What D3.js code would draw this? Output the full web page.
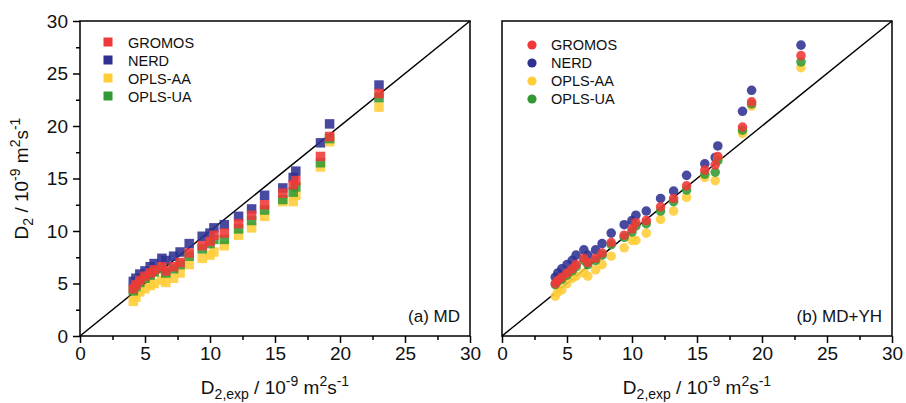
<!DOCTYPE html>
<html><head><meta charset="utf-8">
<script src="https://cdn.jsdelivr.net/npm/d3@7"></script>
<style>body{margin:0;background:#fff}svg{display:block}text{font-family:Arial,"Liberation Sans",sans-serif;fill:#111}</style>
</head><body>
<svg id="c" width="906" height="403"></svg>
<script>
const seriesNames = ["GROMOS","NERD","OPLS-AA","OPLS-UA"];
const seriesColors = ["#f03838","#2e3192","#ffcd38","#339a33"];
const xExp = [4.1,4.3,4.6,5.0,5.4,5.7,6.3,6.6,7.2,7.7,8.4,9.4,10.0,10.3,11.1,12.2,13.2,14.2,15.6,16.4,16.6,18.5,19.2,23.0];
// panel (a) MD
const mdGROMOS = [4.5,4.9,5.3,5.7,6.0,6.3,6.6,6.2,6.6,7.0,7.9,8.6,9.0,9.6,9.8,10.7,11.5,12.5,13.6,14.4,14.8,17.1,19.0,23.1];
const mdNERD   = [5.2,5.5,5.9,6.2,6.6,6.9,7.4,7.2,7.6,8.0,8.8,9.5,9.8,10.3,10.6,11.4,12.1,13.4,14.1,15.1,15.7,18.4,20.2,23.9];
const mdOPLSAA = [3.3,3.7,4.2,4.5,4.8,5.0,5.3,5.1,5.5,6.0,6.8,7.4,7.7,8.0,8.6,9.6,10.3,11.4,12.8,12.8,13.4,16.1,18.5,21.8];
const mdOPLSUA = [4.3,4.7,5.1,5.5,5.8,6.1,6.4,6.0,6.4,6.8,7.6,8.3,8.8,9.2,9.2,10.2,11.0,12.0,13.0,13.7,14.2,16.5,18.8,22.7];
// panel (b) MD+YH
const yhGROMOS = [5.0,5.3,5.6,6.0,6.4,6.8,7.4,7.0,7.4,7.9,8.9,9.6,10.2,10.8,11.0,12.3,13.1,14.3,15.8,16.3,17.1,19.9,22.3,26.7];
const yhNERD   = [5.6,6.0,6.4,6.8,7.2,7.7,8.2,7.7,8.2,8.8,9.8,10.6,11.0,11.5,11.9,13.1,13.8,15.3,16.4,17.0,18.1,21.4,23.4,27.7];
const yhOPLSAA = [3.8,4.2,4.4,5.0,5.5,5.7,6.0,5.7,6.3,6.8,7.6,8.4,9.1,9.1,9.8,11.1,11.9,13.2,15.1,14.8,16.9,19.3,21.9,25.55];
const yhOPLSUA = [4.9,5.2,5.4,5.8,6.2,6.6,7.2,6.8,7.2,7.7,8.7,9.4,9.9,10.5,10.7,11.9,12.8,13.9,15.4,15.6,16.7,19.6,22.1,26.1];
const majorTicks = [0,5,10,15,20,25,30];
const minorTicks = [2.5,7.5,12.5,17.5,22.5,27.5];
const panelLabels = ["(a) MD","(b) MD+YH"];

const svg = d3.select("#c");
const y = d3.scaleLinear().domain([0,30]).range([336,21]);
const panels = [
  {x: d3.scaleLinear().domain([0,30]).range([80,470]), data:[mdGROMOS,mdNERD,mdOPLSAA,mdOPLSUA], shape:"square", yaxis:true, label:panelLabels[0]},
  {x: d3.scaleLinear().domain([0,30]).range([502,892]), data:[yhGROMOS,yhNERD,yhOPLSAA,yhOPLSUA], shape:"circle", yaxis:false, label:panelLabels[1]}
];
const drawOrder = [1,2,3,0];
const fontTick = "19px";

panels.forEach(p => {
  const x = p.x;
  const g = svg.append("g");
  // diagonal
  g.append("line").attr("x1",x(0)).attr("y1",y(0)).attr("x2",x(30)).attr("y2",y(30))
    .attr("stroke","#000").attr("stroke-width",1.5);
  // points
  drawOrder.forEach(si => {
    const vals = p.data[si];
    const pts = xExp.map((v,i)=>[v, vals[i]]);
    if (p.shape === "square") {
      g.append("g").selectAll("rect").data(pts).join("rect")
        .attr("x", d=>x(d[0])-4.75).attr("y", d=>y(d[1])-4.75)
        .attr("width",9.5).attr("height",9.5)
        .attr("fill", seriesColors[si]).attr("fill-opacity",0.88);
    } else {
      g.append("g").selectAll("circle").data(pts).join("circle")
        .attr("cx", d=>x(d[0])).attr("cy", d=>y(d[1])).attr("r",4.8)
        .attr("fill", seriesColors[si]).attr("fill-opacity",0.88);
    }
  });
  // frame
  g.append("rect").attr("x",x(0)).attr("y",y(30)).attr("width",x(30)-x(0)).attr("height",y(0)-y(30))
    .attr("fill","none").attr("stroke","#000").attr("stroke-width",1.5);
  // x axis
  const ax = g.append("g").attr("transform",`translate(0,${y(0)})`)
    .call(d3.axisBottom(x).tickValues(majorTicks).tickSize(7).tickPadding(4).tickFormat(d3.format("d")));
  ax.select(".domain").remove();
  ax.selectAll("line").attr("stroke","#000").attr("stroke-width",1.5);
  ax.selectAll("text").attr("font-size",fontTick).attr("font-family","Arial, Liberation Sans, sans-serif").attr("fill","#111");
  const axm = g.append("g").attr("transform",`translate(0,${y(0)})`)
    .call(d3.axisBottom(x).tickValues(minorTicks).tickSize(4).tickFormat(""));
  axm.select(".domain").remove();
  axm.selectAll("line").attr("stroke","#000").attr("stroke-width",1.5);
  if (p.yaxis) {
    const ay = g.append("g").attr("transform",`translate(${x(0)},0)`)
      .call(d3.axisLeft(y).tickValues(majorTicks).tickSize(7).tickPadding(5).tickFormat(d3.format("d")));
    ay.select(".domain").remove();
    ay.selectAll("line").attr("stroke","#000").attr("stroke-width",1.5);
    ay.selectAll("text").attr("font-size",fontTick).attr("font-family","Arial, Liberation Sans, sans-serif").attr("fill","#111");
    const aym = g.append("g").attr("transform",`translate(${x(0)},0)`)
      .call(d3.axisLeft(y).tickValues(minorTicks).tickSize(4).tickFormat(""));
    aym.select(".domain").remove();
    aym.selectAll("line").attr("stroke","#000").attr("stroke-width",1.5);
  }
  // panel label
  g.append("text").attr("x",x(30)-10).attr("y",322).attr("text-anchor","end")
    .attr("font-size","17px").text(p.label);
  // x title
  const xt = g.append("text").attr("x",(x(0)+x(30))/2).attr("y",394).attr("text-anchor","middle").attr("font-size","19px");
  xt.append("tspan").text("D");
  xt.append("tspan").attr("font-size","14px").attr("dy",5).text("2,exp");
  xt.append("tspan").attr("dy",-5).text(" / 10");
  xt.append("tspan").attr("font-size","14px").attr("dy",-8).text("-9");
  xt.append("tspan").attr("dy",8).text(" m");
  xt.append("tspan").attr("font-size","14px").attr("dy",-8).text("2");
  xt.append("tspan").attr("dy",8).text("s");
  xt.append("tspan").attr("font-size","14px").attr("dy",-8).text("-1");
  // legend
  const lg = g.append("g");
  seriesNames.forEach((n,i) => {
    if (p.shape === "square") {
      const cy = 42 + 18*i;
      lg.append("rect").attr("x",x(0)+28-4.5).attr("y",cy-4.5).attr("width",9).attr("height",9).attr("fill",seriesColors[i]);
      lg.append("text").attr("x",x(0)+48).attr("y",cy+6).attr("font-size","14.5px").text(n);
    } else {
      const cy = 45 + 18*i;
      lg.append("circle").attr("cx",x(0)+30).attr("cy",cy).attr("r",4.6).attr("fill",seriesColors[i]);
      lg.append("text").attr("x",x(0)+49).attr("y",cy+5).attr("font-size","14.5px").text(n);
    }
  });
});
// y title
const yt = svg.append("text").attr("transform",`translate(28,${(y(0)+y(30))/2}) rotate(-90)`)
  .attr("text-anchor","middle").attr("font-size","19px");
yt.append("tspan").text("D");
yt.append("tspan").attr("font-size","14px").attr("dy",5).text("2");
yt.append("tspan").attr("dy",-5).text(" / 10");
yt.append("tspan").attr("font-size","14px").attr("dy",-8).text("-9");
yt.append("tspan").attr("dy",8).text(" m");
yt.append("tspan").attr("font-size","14px").attr("dy",-8).text("2");
yt.append("tspan").attr("dy",8).text("s");
yt.append("tspan").attr("font-size","14px").attr("dy",-8).text("-1");
</script>
</body></html>
